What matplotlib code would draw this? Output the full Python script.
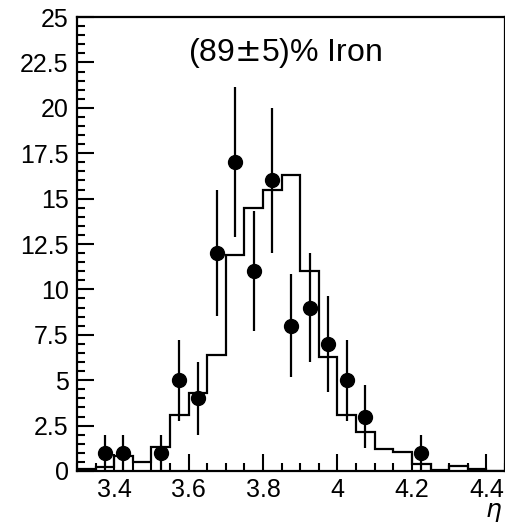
import numpy as np
import matplotlib
matplotlib.use('Agg')
from matplotlib import pyplot as plt
from matplotlib.ticker import MultipleLocator

# histogram (simulation), bin edges every 0.05 from 3.30 to 4.45
bin_edges = np.round(np.arange(3.30, 4.451, 0.05), 3)
hist_vals = [0.1, 0.2, 0.8, 0.5, 1.3, 3.1, 4.3, 6.4, 11.9, 14.5, 15.5, 16.3,
             11.0, 6.3, 3.1, 2.15, 1.2, 1.05, 0.37, 0.05, 0.3, 0.1, 0.0]

# data points with sqrt(n) errors
eta_pts = [3.375, 3.425, 3.525, 3.575, 3.625, 3.675, 3.725, 3.775, 3.825,
           3.875, 3.925, 3.975, 4.025, 4.075, 4.225]
counts = [1, 1, 1, 5, 4, 12, 17, 11, 16, 8, 9, 7, 5, 3, 1]

plt.rcParams['font.family'] = ['Liberation Sans', 'DejaVu Sans']

fig = plt.figure(figsize=(5.06, 5.26), dpi=100)
ax = fig.add_axes([0.152, 0.1046, 0.846, 0.863])

ax.stairs(hist_vals, bin_edges, color='black', linewidth=1.6)
ax.errorbar(eta_pts, counts, yerr=np.sqrt(counts), fmt='o', color='black',
            markersize=10, elinewidth=1.6, capsize=0)

ax.set_xlim(3.3, 4.45)
ax.set_ylim(0, 25)
ax.xaxis.set_minor_locator(MultipleLocator(0.05))
ax.yaxis.set_minor_locator(MultipleLocator(0.5))
ax.set_yticks([0, 2.5, 5, 7.5, 10, 12.5, 15, 17.5, 20, 22.5, 25])
ax.set_yticklabels(['0', '2.5', '5', '7.5', '10', '12.5', '15', '17.5', '20', '22.5', '25'])
ax.set_xticks([3.4, 3.6, 3.8, 4.0, 4.2, 4.4])
ax.set_xticklabels(['3.4', '3.6', '3.8', '4', '4.2', '4.4'])

ax.tick_params(which='both', direction='in', labelsize=18, width=1.5,
               top=False, right=False)
ax.tick_params(which='major', length=12)
ax.tick_params(which='minor', length=6)
ax.tick_params(axis='x', pad=5)
ax.tick_params(axis='y', pad=6)
for s in ax.spines.values():
    s.set_linewidth(1.6)

ax.text(0.486, 0.921, '(89$\\pm$5)% Iron', transform=ax.transAxes,
        ha='center', va='center', fontsize=23)
fig.text(0.993, 0.004, '$\\eta$', ha='right', va='bottom', fontsize=18)

fig.savefig('out.png', dpi=100)
